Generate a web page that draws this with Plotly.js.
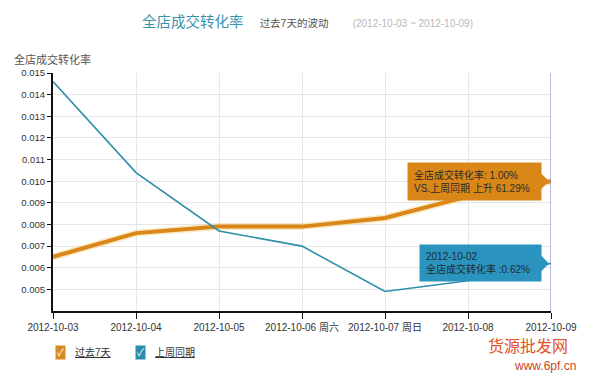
<!DOCTYPE html>
<html>
<head>
<meta charset="utf-8">
<script src="https://cdn.plot.ly/plotly-3.0.1.min.js"></script>
<style>html,body{margin:0;padding:0;background:#fff;}#chart{width:590px;height:380px;}</style>
</head>
<body>
<div id="chart"></div>
<script>
// ---- data ----
var categories = ["2012-10-03","2012-10-04","2012-10-05","2012-10-06","2012-10-07","2012-10-08","2012-10-09"];
var tickLabels = ["2012-10-03","2012-10-04","2012-10-05","2012-10-06 周六","2012-10-07 周日","2012-10-08","2012-10-09"];
var past7Days = [0.0065, 0.0076, 0.0079, 0.0079, 0.0083, 0.0093, 0.0100];
var lastWeek  = [0.0146, 0.0104, 0.0077, 0.0070, 0.0049, 0.0054, 0.0062];
var seriesNames = ["过去7天", "上周同期"];
var yTicks = [0.005,0.006,0.007,0.008,0.009,0.010,0.011,0.012,0.013,0.014,0.015];
var lastWeekDate = "2012-10-02";

var FONT = "Liberation Sans, Arial, 'Noto Sans CJK SC', sans-serif";
var ORANGE = "#d98718", TEAL = "#2f8ea8";
var n = categories.length - 1;
var cur = past7Days[n], prev = lastWeek[n];
var change = (cur / prev - 1) * 100;

var traces = [
  {x: categories, y: past7Days, type: "scatter", mode: "lines", showlegend: false, hoverinfo: "skip",
   line: {color: "rgba(245,205,120,0.45)", width: 7}},
  {x: categories, y: past7Days, type: "scatter", mode: "lines", name: seriesNames[0], showlegend: false,
   line: {color: ORANGE, width: 4}},
  {x: categories, y: lastWeek, type: "scatter", mode: "lines", name: seriesNames[1], showlegend: false,
   line: {color: TEAL, width: 1.6}}
];

var NB = "\u00a0";
var layout = {
  width: 590, height: 380,
  margin: {l: 53, r: 39, t: 73, b: 69},
  paper_bgcolor: "#fff", plot_bgcolor: "#fff",
  font: {family: FONT, color: "#333", size: 10},
  title: {
    text: "全店成交转化率" + NB+NB+NB+NB + "<span style='font-size:10.5px;color:#555'>过去7天的波动</span>" + NB+NB+NB+NB+NB+NB +
          "<span style='font-size:10px;color:#b8b8b8'>(" + categories[0] + " ~ " + categories[n] + ")</span>",
    font: {family: FONT, size: 14.5, color: "#3a93ad"},
    x: 142/590, xanchor: "left", xref: "container",
    y: 1 - 22/380, yanchor: "middle", yref: "container"
  },
  xaxis: {
    type: "category", range: [0, n], tickmode: "array", tickvals: categories, ticktext: tickLabels,
    showgrid: true, gridcolor: "#e6e6e6", gridwidth: 1,
    showline: true, linecolor: "#111", linewidth: 2,
    ticks: "outside", ticklen: 6, tickcolor: "#111", tickwidth: 1,
    tickfont: {size: 10, color: "#333"}, zeroline: false, fixedrange: true
  },
  yaxis: {
    range: [0.004, 0.015], tickmode: "array", tickvals: yTicks, tickformat: ".3f",
    showgrid: true, gridcolor: "#e6e6e6", gridwidth: 1,
    showline: true, linecolor: "#111", linewidth: 2,
    ticks: "outside", ticklen: 4, tickcolor: "#111", tickwidth: 1,
    tickfont: {size: 9.5, color: "#333"}, zeroline: false, fixedrange: true
  },
  shapes: [
    {type: "line", xref: "x", yref: "paper", x0: n, x1: n, y0: 0, y1: 1, line: {color: "#7b74c8", width: 1}},
    {type: "path", xref: "x", yref: "y", xsizemode: "pixel", ysizemode: "pixel", xanchor: n, yanchor: cur,
     path: "M -10 -8 L -2 0 L -10 8 Z", fillcolor: ORANGE, line: {width: 0}},
    {type: "path", xref: "x", yref: "y", xsizemode: "pixel", ysizemode: "pixel", xanchor: n, yanchor: prev,
     path: "M -10 -8 L -2 0 L -10 8 Z", fillcolor: "#2a94bf", line: {width: 0}}
  ],
  annotations: [
    {xref: "paper", yref: "paper", x: -41/498, y: (311-60)/238, xanchor: "left", yanchor: "middle",
     text: "全店成交转化率", showarrow: false, font: {size: 11, color: "#555"}},
    {xref: "x", yref: "y", x: n, y: cur, xanchor: "right", yanchor: "middle", xshift: -9, showarrow: false,
     align: "left", bgcolor: ORANGE, borderpad: 6,
     text: "全店成交转化率: " + (cur*100).toFixed(2) + "%<br>VS.上周同期 上升 " + change.toFixed(2) + "%" + NB+NB,
     font: {size: 10, color: "#2b2b2b"}},
    {xref: "x", yref: "y", x: n, y: prev, xanchor: "right", yanchor: "middle", xshift: -9, showarrow: false,
     align: "left", bgcolor: "#2a94bf", borderpad: 6,
     text: lastWeekDate + "<br>全店成交转化率 :" + (prev*100).toFixed(2) + "%" + NB+NB,
     font: {size: 10, color: "#1d2b33"}},
    // legend (checkbox style)
    {xref: "paper", yref: "paper", x: 2/498, y: (311-352)/238, xanchor: "left", yanchor: "middle", showarrow: false,
     text: "✓", bgcolor: "#d58a23", borderpad: 1, font: {size: 10, color: "#fff"}},
    {xref: "paper", yref: "paper", x: 20/498, y: (311-352)/238, xanchor: "left", yanchor: "middle", showarrow: false,
     text: "<u>" + seriesNames[0] + "</u>", font: {size: 10, color: "#333"}},
    {xref: "paper", yref: "paper", x: 82/498, y: (311-352)/238, xanchor: "left", yanchor: "middle", showarrow: false,
     text: "✓", bgcolor: "#2a8fae", borderpad: 1, font: {size: 10, color: "#fff"}},
    {xref: "paper", yref: "paper", x: 100/498, y: (311-352)/238, xanchor: "left", yanchor: "middle", showarrow: false,
     text: "<u>" + seriesNames[1] + "</u>", font: {size: 10, color: "#333"}},
    // watermarks (kept clear of the tick labels)
    {xref: "paper", yref: "paper", x: (528-53)/498, y: (311-346)/238, xanchor: "center", yanchor: "middle", showarrow: false,
     text: "货源批发网", font: {size: 16, color: "#e0532a"}},
    {xref: "paper", yref: "paper", x: (545-53)/498, y: (311-366)/238, xanchor: "center", yanchor: "middle", showarrow: false,
     text: "www.6pf.cn", font: {size: 12, color: "#c8461e"}}
  ]
};

Plotly.newPlot("chart", traces, layout, {displayModeBar: false, staticPlot: true});
</script>
</body>
</html>
